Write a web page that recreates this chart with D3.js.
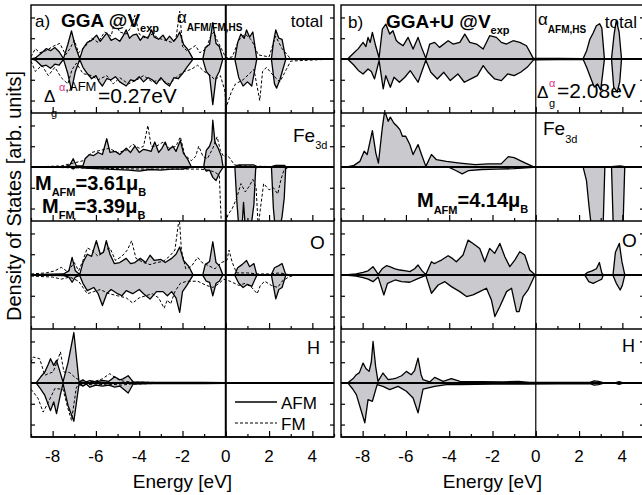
<!DOCTYPE html>
<html>
<head>
<meta charset="utf-8">
<script src="https://cdn.jsdelivr.net/npm/d3@7"></script>
<style>
body { margin: 0; background: #fff; }
svg { display: block; font-family: Arial, "Liberation Sans", sans-serif; }
</style>
</head>
<body>
<svg id="chart" width="642" height="495"></svg>
<script>
// energy axis
const energyTicks = [-8, -6, -4, -2, 0, 2, 4];
const energyMinor = [-9, -7, -5, -3, -1, 1, 3, 5];
const dosTicks = [-2, -1, 1, 2];

// ---- a) GGA @Vexp : [energy, DOS]  (up > 0, down < 0)
const aTotUp = [[-9,0],[-8.8,0.05],[-8.5,0.3],[-8.3,0.5],[-8.1,0.4],[-7.9,0.55],[-7.7,0.35],[-7.5,0.02],[-7.3,0.7],[-7.13,1.35],[-6.95,0.6],[-6.75,0.02],[-6.6,0.5],[-6.4,0.8],[-6.2,0.9],[-5.97,1.15],[-5.8,0.85],[-5.65,1.05],[-5.5,1.25],[-5.3,0.9],[-5.1,1.0],[-4.9,0.85],[-4.75,1.1],[-4.6,1.4],[-4.45,1.0],[-4.3,1.15],[-4.12,1.2],[-3.95,0.9],[-3.8,1.1],[-3.6,1.0],[-3.43,1.4],[-3.3,1.05],[-3.1,0.95],[-2.9,1.15],[-2.75,0.9],[-2.6,1.1],[-2.4,0.85],[-2.25,1.05],[-2.13,1.3],[-1.95,0.7],[-1.75,0.45],[-1.52,0.02],[-1.06,0.02],[-0.95,0.55],[-0.75,0.7],[-0.6,1.75],[-0.45,0.75],[-0.3,0.6],[-0.14,0.02],[0.42,0.02],[0.55,0.8],[0.7,1.2],[0.85,1.0],[0.96,1.4],[1.1,1.05],[1.25,1.3],[1.43,0.02],[2.11,0.02],[2.2,0.8],[2.31,1.4],[2.45,1.0],[2.6,0.95],[2.77,0.02],[5,0]];
const aTotDn = [[-9,0],[-8.8,-0.05],[-8.5,-0.35],[-8.3,-0.3],[-8.1,-0.45],[-7.9,-0.25],[-7.7,-0.3],[-7.5,-0.02],[-7.3,-0.7],[-7.13,-1.5],[-6.95,-0.6],[-6.75,-0.02],[-6.6,-0.4],[-6.4,-0.7],[-6.2,-0.95],[-6.0,-0.8],[-5.85,-1.1],[-5.7,-1.3],[-5.5,-0.95],[-5.3,-1.0],[-5.1,-0.85],[-4.9,-1.1],[-4.6,-1.3],[-4.4,-1.0],[-4.2,-1.05],[-4.0,-0.85],[-3.8,-1.1],[-3.6,-0.9],[-3.4,-1.0],[-3.2,-1.2],[-3.0,-0.9],[-2.8,-1.15],[-2.6,-1.3],[-2.4,-0.9],[-2.2,-0.95],[-2.0,-0.7],[-1.8,-0.4],[-1.52,-0.02],[-1.06,-0.02],[-0.9,-0.6],[-0.75,-0.8],[-0.6,-2.2],[-0.45,-0.9],[-0.3,-0.6],[-0.14,-0.02],[0.42,-0.02],[0.6,-0.9],[0.8,-1.3],[1.0,-1.1],[1.2,-1.3],[1.43,-0.02],[2.11,-0.02],[2.25,-1.2],[2.35,-1.4],[2.5,-1.0],[2.77,-0.02],[5,0]];
const aTotFmUp = [[-9,0.1],[-8.8,0.5],[-8.6,0.3],[-8.3,0.4],[-8.0,0.6],[-7.67,0.75],[-7.4,0.2],[-7.2,0.5],[-7.0,0.9],[-6.8,0.3],[-6.5,0.6],[-6.2,1.0],[-5.9,0.8],[-5.6,1.3],[-5.3,1.1],[-5.13,1.8],[-4.9,1.3],[-4.6,1.2],[-4.4,1.5],[-4.2,2.1],[-4.0,1.2],[-3.7,1.0],[-3.4,1.2],[-3.1,1.0],[-2.8,0.9],[-2.5,0.8],[-2.3,1.0],[-2.13,2.3],[-2.0,0.6],[-1.8,0.4],[-1.6,0.5],[-1.4,0.65],[-1.2,0.3],[-0.9,0.5],[-0.7,1.1],[-0.55,1.3],[-0.4,0.9],[-0.2,0.5],[0,0.05],[0.3,0.1],[0.6,0.9],[0.9,1.2],[1.2,0.9],[1.5,0.2],[2.0,0.1],[2.3,1.1],[2.6,0.5],[3.0,0],[5,0]];
const aTotFmDn = [[-9,-0.1],[-8.8,-0.6],[-8.5,-0.3],[-8.2,-0.8],[-7.9,-0.4],[-7.6,-0.9],[-7.3,-1.2],[-7.1,-0.5],[-6.9,-0.2],[-6.6,-0.7],[-6.2,-0.8],[-5.9,-1.0],[-5.5,-0.8],[-5.2,-1.2],[-4.9,-0.9],[-4.5,-1.2],[-4.1,-1.0],[-3.8,-0.8],[-3.4,-1.1],[-3.0,-1.0],[-2.6,-1.2],[-2.2,-0.8],[-1.9,-0.6],[-1.6,-0.5],[-1.3,-0.3],[-1.0,-0.6],[-0.7,-0.8],[-0.5,-1.0],[-0.25,-0.8],[-0.05,-1.5],[0.03,-2.3],[0.25,-1.6],[0.45,-1.2],[0.8,-1.0],[1.1,-0.7],[1.3,-0.5],[1.57,-2.0],[1.7,-0.6],[1.88,-0.4],[2.2,-0.8],[2.5,-1.1],[2.8,-0.5],[3.0,-0.1],[5,0]];

const aFeUp = [[-9,0],[-7.4,0.02],[-7.2,0.1],[-7.05,0.4],[-6.9,0.05],[-6.6,0.05],[-6.5,0.4],[-6.3,0.6],[-6.1,0.55],[-5.9,0.7],[-5.7,0.6],[-5.5,1.36],[-5.35,0.7],[-5.1,0.75],[-4.9,0.6],[-4.6,0.9],[-4.4,0.7],[-4.2,1.0],[-4.0,0.7],[-3.8,0.85],[-3.6,0.8],[-3.45,0.75],[-3.28,1.2],[-3.1,0.7],[-2.95,0.9],[-2.8,1.2],[-2.65,0.8],[-2.45,1.0],[-2.3,0.75],[-2.1,1.28],[-1.95,0.65],[-1.75,0.35],[-1.6,0.02],[-1.02,0.02],[-0.9,0.8],[-0.75,1.0],[-0.65,1.3],[-0.6,2.25],[-0.5,1.2],[-0.35,0.9],[-0.2,0.5],[-0.13,0.02],[0.42,0.02],[0.6,0.1],[1.3,0.1],[1.42,0.02],[2.11,0.02],[2.3,0.08],[2.7,0.08],[2.77,0.02],[5,0]];
const aFeDn = [[-9,0],[-7.2,0],[-7.05,-0.1],[-6.9,0],[-6.5,-0.05],[-5.5,-0.1],[-4.5,-0.15],[-4.0,-0.2],[-3.5,-0.12],[-3.0,-0.15],[-2.5,-0.1],[-2.0,-0.1],[-1.6,-0.02],[-1.02,-0.02],[-0.9,-0.2],[-0.75,-0.15],[-0.6,-0.5],[-0.45,-0.65],[-0.3,-0.3],[-0.13,-0.02],[0.42,0],[0.5,-1.5],[0.6,-2.9],[0.75,-2.9],[0.82,-1.7],[0.9,-2.9],[1.1,-2.9],[1.2,-2.6],[1.3,-1.8],[1.38,-0.1],[1.42,0],[2.11,0],[2.2,-2.0],[2.28,-2.9],[2.5,-2.9],[2.6,-2.4],[2.7,-1.5],[2.77,0],[5,0]];
const aFeFmUp = [[-9,0],[-7.6,0.05],[-7.0,0.2],[-6.6,0.3],[-6.2,0.7],[-5.8,0.8],[-5.4,0.9],[-5.0,0.7],[-4.6,0.8],[-4.3,1.1],[-4.0,0.9],[-3.8,1.0],[-3.6,2.0],[-3.45,1.0],[-3.2,1.0],[-2.9,1.2],[-2.6,0.9],[-2.3,1.0],[-2.1,1.45],[-1.9,0.6],[-1.6,0.3],[-1.4,0.5],[-1.25,1.0],[-1.05,0.5],[-0.85,0.4],[-0.6,0.9],[-0.4,1.45],[-0.25,0.8],[-0.1,0.5],[0.05,0.6],[0.2,0.4],[0.4,0.1],[0.8,0.05],[3,0],[5,0]];
const aFeFmDn = [[-9,0],[-6.5,-0.05],[-4,-0.1],[-2,-0.1],[-1.2,-0.1],[-0.8,-0.15],[-0.5,-0.25],[-0.3,-0.4],[-0.2,-2.9],[-0.05,-2.9],[0.1,-2.3],[0.3,-2.0],[0.5,-1.5],[0.7,-0.8],[0.9,-1.2],[1.1,-0.9],[1.25,-0.6],[1.4,-1.0],[1.5,-2.9],[1.6,-2.0],[1.75,-0.8],[2.0,-1.1],[2.2,-1.0],[2.4,-1.3],[2.55,-0.6],[2.7,-0.1],[3.0,0],[5,0]];

const aOUp = [[-9,0],[-8.5,0.03],[-7.5,0.05],[-7.25,0.2],[-7.1,0.85],[-6.95,0.2],[-6.75,0.02],[-6.6,0.6],[-6.4,1.0],[-6.2,0.9],[-5.98,1.65],[-5.8,1.0],[-5.65,1.1],[-5.52,1.65],[-5.35,1.0],[-5.15,0.55],[-4.9,0.6],[-4.6,0.8],[-4.4,0.55],[-4.2,0.6],[-3.95,0.8],[-3.7,0.6],[-3.5,0.95],[-3.3,0.7],[-3.0,0.75],[-2.8,0.6],[-2.5,0.8],[-2.3,1.0],[-2.13,1.35],[-1.95,0.7],[-1.7,0.4],[-1.52,0.02],[-1.06,0.02],[-0.95,0.5],[-0.75,0.65],[-0.6,1.6],[-0.45,0.6],[-0.3,0.45],[-0.14,0.02],[0.42,0.02],[0.55,0.35],[0.75,0.5],[0.96,0.7],[1.1,0.4],[1.3,0.55],[1.43,0.02],[2.11,0.02],[2.25,0.35],[2.45,0.45],[2.6,0.55],[2.77,0.02],[5,0]];
const aODn = [[-9,0],[-7.5,-0.03],[-7.25,-0.1],[-7.1,-0.35],[-6.95,-0.1],[-6.75,-0.02],[-6.6,-0.4],[-6.4,-0.75],[-6.1,-0.6],[-5.9,-0.9],[-5.7,-1.47],[-5.5,-0.9],[-5.3,-0.7],[-5.0,-0.9],[-4.8,-1.0],[-4.6,-0.75],[-4.3,-0.9],[-4.0,-0.7],[-3.8,-0.9],[-3.5,-1.16],[-3.2,-0.8],[-2.9,-0.8],[-2.7,-1.0],[-2.5,-0.8],[-2.3,-1.1],[-2.13,-1.8],[-2.0,-0.8],[-1.8,-0.5],[-1.52,-0.02],[-1.06,-0.02],[-0.9,-0.3],[-0.75,-0.35],[-0.6,-1.0],[-0.45,-0.4],[-0.3,-0.3],[-0.14,-0.02],[0.42,-0.02],[0.6,-0.4],[0.8,-0.6],[1.0,-0.45],[1.2,-0.55],[1.43,-0.02],[2.11,-0.02],[2.25,-0.8],[2.31,-1.15],[2.45,-0.7],[2.6,-0.6],[2.77,-0.02],[5,0]];
const aOFmUp = [[-9,0.05],[-8.3,0.1],[-7.9,0.2],[-7.6,0.37],[-7.3,0.15],[-7.0,0.6],[-6.8,0.2],[-6.6,0.7],[-6.4,1.3],[-6.2,1.2],[-5.9,0.9],[-5.6,1.2],[-5.35,1.3],[-5.1,0.7],[-4.8,0.9],[-4.55,1.2],[-4.35,1.65],[-4.15,0.8],[-3.8,0.6],[-3.5,0.5],[-3.2,0.6],[-2.9,0.65],[-2.6,0.9],[-2.35,1.2],[-2.15,2.8],[-2.05,1.2],[-1.85,0.3],[-1.6,0.4],[-1.3,0.85],[-1.1,0.6],[-0.8,0.45],[-0.5,0.3],[-0.2,0.6],[0.05,0.7],[0.15,1.2],[0.3,0.6],[0.5,0.1],[1.0,0.1],[1.5,0.05],[2.0,0.05],[2.5,0.1],[3.0,0],[5,0]];
const aOFmDn = [[-9,-0.05],[-8.0,-0.1],[-7.6,-0.2],[-7.2,-0.1],[-6.8,-0.3],[-6.4,-0.9],[-6.1,-0.8],[-5.8,-0.7],[-5.4,-0.9],[-5.0,-1.0],[-4.6,-1.1],[-4.3,-1.35],[-4.0,-1.1],[-3.7,-1.0],[-3.4,-0.9],[-3.1,-1.1],[-2.85,-1.6],[-2.7,-1.2],[-2.55,-1.4],[-2.35,-0.8],[-2.1,-0.4],[-1.8,-0.3],[-1.3,-0.3],[-0.9,-0.5],[-0.6,-0.6],[-0.3,-0.4],[-0.1,-0.2],[0.2,-0.3],[0.6,-0.5],[0.9,-0.4],[1.2,-0.6],[1.45,-0.9],[1.6,-0.5],[1.8,-0.3],[2.1,-0.5],[2.4,-0.6],[2.6,-0.3],[2.9,-0.1],[3.2,0],[5,0]];

const aHUp = [[-9,0],[-8.75,0.02],[-8.55,0.3],[-8.36,0.53],[-8.2,0.9],[-8.1,1.17],[-7.95,0.85],[-7.82,1.09],[-7.65,0.5],[-7.52,0.05],[-7.29,0.98],[-7.02,2.43],[-6.78,0.03],[-6.6,0.15],[-6.45,0.05],[-6.28,0.12],[-6.0,0.05],[-5.7,0.12],[-5.4,0.08],[-5.13,0.3],[-4.9,0.15],[-4.75,0.2],[-4.51,0.35],[-4.28,0.05],[-3.5,0.03],[-1,0.03],[0,0.02],[1,0.02],[2.5,0.02],[5,0]];
const aHDn = [[-9,0],[-8.75,-0.02],[-8.55,-0.3],[-8.36,-0.6],[-8.1,-1.33],[-7.95,-0.91],[-7.82,-1.47],[-7.65,-0.6],[-7.52,-0.03],[-7.29,-1.08],[-7.02,-1.84],[-6.78,-0.03],[-6.6,-0.15],[-6.45,-0.05],[-6.28,-0.2],[-6.0,-0.1],[-5.7,-0.15],[-5.4,-0.1],[-5.13,-0.2],[-4.9,-0.15],[-4.51,-0.48],[-4.28,-0.05],[-3.5,-0.03],[-1,-0.03],[0,-0.02],[1,-0.02],[2.5,-0.02],[5,0]];
const aHFmUp = [[-9,1.0],[-8.9,1.25],[-8.6,1.17],[-8.36,0.37],[-8.2,0.45],[-7.98,0.53],[-7.8,1.0],[-7.64,1.5],[-7.48,0.53],[-7.21,0.5],[-6.95,0.25],[-6.74,0.13],[-6.4,0.05],[-6.0,0.1],[-5.7,0.2],[-5.36,0.45],[-5.1,0.25],[-4.8,0.1],[-4.4,0.05],[-3,0.02],[5,0]];
const aHFmDn = [[-9,-0.3],[-8.9,-0.43],[-8.67,-0.75],[-8.44,-1.4],[-8.21,-0.95],[-7.9,-0.27],[-7.52,-0.3],[-7.29,-1.24],[-7.13,-1.8],[-6.9,-0.19],[-6.6,-0.05],[-6.0,-0.1],[-5.5,-0.05],[-4.8,-0.1],[-4.4,-0.05],[-3,-0.02],[5,0]];

// ---- b) GGA+U @Vexp (AFM only)
const bTotUp = [[-9,0],[-8.67,0.02],[-8.4,0.3],[-8.2,0.5],[-7.98,0.8],[-7.85,0.6],[-7.75,1.04],[-7.65,0.8],[-7.55,1.28],[-7.39,0.6],[-7.24,0.06],[-7.09,1.44],[-6.93,1.68],[-6.75,1.2],[-6.6,1.36],[-6.45,0.9],[-6.36,0.8],[-6.13,0.64],[-5.9,1.04],[-5.67,0.48],[-5.44,1.04],[-5.28,0.56],[-5.08,0.04],[-4.9,0.72],[-4.67,0.8],[-4.45,0.56],[-4.05,0.88],[-3.82,0.72],[-3.51,0.8],[-3.28,1.2],[-3.05,0.8],[-2.74,0.72],[-2.43,0.48],[-2.13,1.12],[-1.82,1.04],[-1.59,0.8],[-1.35,0.72],[-1.05,0.88],[-0.74,0.8],[-0.43,0.64],[-0.12,0.04],[2.19,0.02],[2.35,0.4],[2.5,0.95],[2.65,1.25],[2.8,1.6],[2.95,1.7],[3.05,1.5],[3.17,0.02],[3.5,0.02],[3.62,1.2],[3.72,1.85],[3.85,1.3],[3.96,0.02],[5,0]];
const bTotDn = [[-9,0],[-8.67,-0.02],[-8.4,-0.3],[-8.2,-0.55],[-7.98,-0.72],[-7.75,-0.48],[-7.6,-0.6],[-7.45,-0.96],[-7.24,-0.08],[-7.05,-1.44],[-6.93,-0.8],[-6.72,-1.36],[-6.55,-0.88],[-6.3,-1.12],[-6.05,-0.88],[-5.8,-0.56],[-5.44,-1.12],[-5.08,-0.06],[-4.85,-0.64],[-4.55,-0.96],[-4.25,-0.64],[-3.95,-1.04],[-3.6,-0.72],[-3.3,-1.12],[-3.0,-0.96],[-2.7,-0.8],[-2.43,-0.32],[-2.2,-0.64],[-1.9,-0.96],[-1.59,-1.04],[-1.3,-0.72],[-1.0,-0.8],[-0.7,-0.64],[-0.4,-0.4],[-0.1,-0.04],[2.19,-0.02],[2.35,-0.4],[2.55,-0.95],[2.7,-1.35],[2.85,-1.2],[3.0,-1.5],[3.17,-0.02],[3.5,-0.02],[3.6,-1.35],[3.76,-1.6],[3.88,-1.1],[3.96,-0.02],[5,0]];

const bFeUp = [[-9,0],[-8.67,0.02],[-8.4,0.08],[-8.13,0.27],[-7.93,0.76],[-7.79,0.6],[-7.55,1.75],[-7.39,0.67],[-7.27,0.19],[-7.09,1.9],[-6.98,2.7],[-6.82,2.2],[-6.72,2.4],[-6.56,2.12],[-6.41,1.96],[-6.28,1.8],[-6.16,1.48],[-6.01,1.48],[-5.82,1.08],[-5.67,0.6],[-5.44,1.08],[-5.28,0.6],[-5.08,0.03],[-4.82,0.6],[-4.59,0.35],[-4.13,0.27],[-3.5,0.19],[-2.8,0.11],[-2.2,0.15],[-1.6,0.15],[-1.27,0.5],[-1.0,0.45],[-0.6,0.25],[-0.12,0.02],[3.5,0.02],[3.9,0.05],[4.11,0.02],[5,0]];
const bFeDn = [[-9,0],[-4,-0.02],[-3.7,-0.17],[-3.4,-0.33],[-3.1,-0.17],[-2.5,-0.12],[-1.8,-0.1],[-1.0,-0.08],[-0.12,-0.02],[2.19,-0.02],[2.34,-0.64],[2.46,-1.9],[2.57,-2.9],[3.11,-2.9],[3.19,-0.02],[3.5,-0.02],[3.58,-2.9],[4.03,-2.9],[4.11,-0.02],[5,0]];

const bOUp = [[-9,0],[-8.67,0.02],[-8.3,0.05],[-7.98,0.13],[-7.75,0.2],[-7.52,0.4],[-7.28,0.03],[-7.1,0.3],[-6.9,0.45],[-6.75,0.4],[-6.5,0.3],[-6.28,0.24],[-6.0,0.2],[-5.82,0.16],[-5.6,0.3],[-5.44,0.48],[-5.25,0.2],[-5.08,0.02],[-4.82,0.64],[-4.7,0.55],[-4.59,0.6],[-4.36,0.72],[-4.05,0.93],[-3.85,0.8],[-3.67,0.64],[-3.36,0.96],[-3.13,1.68],[-2.9,1.52],[-2.59,1.28],[-2.36,0.64],[-2.13,1.28],[-1.9,1.04],[-1.66,1.52],[-1.43,0.88],[-1.2,0.4],[-0.97,0.72],[-0.74,1.12],[-0.51,0.96],[-0.28,0.24],[-0.05,0.02],[2.27,0.02],[2.4,0.13],[2.6,0.2],[2.8,0.3],[2.94,0.6],[3.05,0.1],[3.11,0.02],[3.57,0.02],[3.68,1.1],[3.86,1.52],[3.98,0.64],[4.11,0.02],[5,0]];
const bODn = [[-9,0],[-8.67,-0.02],[-8.3,-0.05],[-7.98,-0.13],[-7.75,-0.2],[-7.52,-0.32],[-7.28,-0.1],[-7.02,-0.96],[-6.85,-0.4],[-6.5,-0.24],[-6.2,-0.32],[-5.82,-0.35],[-5.5,-0.2],[-5.08,-0.02],[-4.82,-0.88],[-4.51,-0.48],[-4.2,-0.32],[-3.9,-0.56],[-3.51,-0.8],[-3.2,-1.04],[-2.9,-0.96],[-2.59,-0.8],[-2.28,-0.64],[-2.05,-1.2],[-1.89,-2.0],[-1.66,-1.52],[-1.35,-0.8],[-1.12,-0.64],[-0.89,-1.76],[-0.77,-1.76],[-0.59,-1.04],[-0.36,-0.72],[-0.05,-0.02],[2.27,-0.02],[2.45,-0.32],[2.65,-0.4],[2.85,-0.3],[3.05,-0.2],[3.11,-0.02],[3.57,-0.02],[3.72,-0.4],[3.9,-0.72],[4.0,-0.5],[4.11,-0.02],[5,0]];

const bHUp = [[-9,0],[-8.67,0.02],[-8.45,0.2],[-8.29,0.4],[-8.15,0.5],[-7.98,0.96],[-7.85,0.7],[-7.7,0.56],[-7.6,1.0],[-7.52,2.0],[-7.4,0.8],[-7.29,0.08],[-7.06,0.48],[-6.82,0.16],[-6.6,0.2],[-6.44,0.24],[-6.2,0.35],[-5.98,0.56],[-5.75,0.4],[-5.6,0.6],[-5.44,1.2],[-5.3,0.4],[-5.21,0.16],[-4.9,0.05],[-4.67,0.27],[-4.28,0.08],[-3.9,0.21],[-3.5,0.08],[-2.5,0.06],[-1.5,0.05],[-0.8,0.08],[-0.3,0.03],[2.5,0.03],[2.7,0.1],[2.9,0.08],[3.1,0.02],[3.7,0.02],[3.85,0.07],[4.0,0.02],[5,0]];
const bHDn = [[-9,0],[-8.67,-0.02],[-8.45,-0.3],[-8.29,-0.56],[-8.06,-1.36],[-7.9,-1.92],[-7.75,-0.8],[-7.55,-0.88],[-7.33,-0.08],[-7.06,-0.16],[-6.75,-0.32],[-6.36,-0.16],[-5.98,-0.4],[-5.67,-0.72],[-5.44,-1.44],[-5.21,-0.3],[-4.67,-0.16],[-4.13,-0.08],[-3.51,-0.08],[-2,-0.05],[-0.5,-0.05],[2.5,-0.03],[2.7,-0.1],[2.9,-0.08],[3.1,-0.02],[3.7,-0.02],[3.85,-0.07],[4.0,-0.02],[5,0]];


// ---- layout
const panelW = 303, top0 = 5, rowH = 108;
const fillGray = "#c9c9ce";
const pink = "#e3348a";

const svg = d3.select("#chart");

const panels = [
    { x0: 31, efWidth: 2, rows: [
        { up: aTotUp, dn: aTotDn, fm: [aTotFmUp, aTotFmDn] },
        { up: aFeUp, dn: aFeDn, fm: [aFeFmUp, aFeFmDn] },
        { up: aOUp, dn: aODn, fm: [aOFmUp, aOFmDn] },
        { up: aHUp, dn: aHDn, fm: [aHFmUp, aHFmDn] } ] },
    { x0: 341, efWidth: 1.2, rows: [
        { up: bTotUp, dn: bTotDn, fm: [] },
        { up: bFeUp, dn: bFeDn, fm: [] },
        { up: bOUp, dn: bODn, fm: [] },
        { up: bHUp, dn: bHDn, fm: [] } ] }
];

// text helper: parts = [text, size, bold, baseline offset, colour]
function rich(x, y, parts, anchor) {
    const t = svg.append("text").attr("x", x).attr("y", y)
        .attr("text-anchor", anchor || "start");
    let cur = 0;
    parts.forEach(([s, size, bold, off, col]) => {
        off = off || 0;
        t.append("tspan")
            .attr("dy", off - cur)
            .attr("font-size", size)
            .attr("font-weight", bold ? "bold" : "normal")
            .attr("fill", col || "#000")
            .text(s);
        cur = off;
    });
    return t;
}

// labels (drawn first, curves go over them like in the figure)
rich(35, 27, [["a)", 17]]);
rich(61, 27, [["GGA @V", 19, 1], ["exp", 11, 1, 5]]);
rich(177, 23, [["α", 17], ["AFM/FM,HS", 10, 1, 8]]);
rich(323, 27, [["total", 17]], "end");
rich(44, 102, [["Δ", 17]]);
rich(59, 91, [["α", 11, 0, 0, pink], [",AFM", 13]]);
rich(51, 117, [["g", 11]]);
rich(98, 103, [["=0.27eV", 21]]);
rich(293, 142, [["Fe", 19], ["3d", 11, 0, 7]]);
rich(35, 190, [["M", 20, 1], ["AFM", 11, 1, 6], ["=3.61μ", 20, 1], ["B", 11, 1, 6]]);
rich(42, 213, [["M", 20, 1], ["FM", 11, 1, 6], ["=3.39μ", 20, 1], ["B", 11, 1, 6]]);
rich(310, 249, [["O", 19]]);
rich(307, 354, [["H", 18]]);

rich(348, 28, [["b)", 17]]);
rich(386, 28, [["GGA+U @V", 19, 1], ["exp", 11, 1, 6]]);
rich(538, 25, [["α", 17], ["AFM,HS", 10, 1, 8]]);
rich(637, 28, [["total", 17]], "end");
rich(537, 98, [["Δ", 17]]);
rich(549, 87, [["α", 11, 0, 0, pink]]);
rich(549, 107, [["g", 11]]);
rich(557, 98, [["=2.08eV", 21]]);
rich(543, 135, [["Fe", 19], ["3d", 11, 0, 8]]);
rich(417, 207, [["M", 20, 1], ["AFM", 11, 1, 7], ["=4.14μ", 20, 1], ["B", 11, 1, 6]]);
rich(622, 247, [["O", 19]]);
rich(622, 352, [["H", 18]]);

panels.forEach((p, pi) => {
    const x = d3.scaleLinear().domain([-9, 5]).range([p.x0, p.x0 + panelW]);
    const g = svg.append("g");

    p.rows.forEach((r, ri) => {
        const yTop = top0 + ri * rowH;
        const y = d3.scaleLinear().domain([-2.6, 2.6]).range([yTop + rowH, yTop]);
        const cid = `clip${pi}${ri}`;
        svg.append("clipPath").attr("id", cid).append("rect")
            .attr("x", p.x0).attr("y", yTop).attr("width", panelW).attr("height", rowH);
        const cg = g.append("g").attr("clip-path", `url(#${cid})`);

        const area = d3.area().x(d => x(d[0])).y0(y(0)).y1(d => y(d[1]));
        const line = d3.line().x(d => x(d[0])).y(d => y(d[1]));

        [r.up, r.dn].forEach(s => cg.append("path").attr("d", area(s)).attr("fill", fillGray));
        r.fm.forEach(s => cg.append("path").attr("d", line(s))
            .attr("fill", "none").attr("stroke", "#000").attr("stroke-width", 1)
            .attr("stroke-dasharray", "3,2"));
        [r.up, r.dn].forEach(s => cg.append("path").attr("d", line(s))
            .attr("fill", "none").attr("stroke", "#000").attr("stroke-width", 1.3)
            .attr("stroke-linejoin", "round"));

        // zero line
        g.append("line").attr("x1", p.x0).attr("x2", p.x0 + panelW)
            .attr("y1", y(0)).attr("y2", y(0))
            .attr("stroke", "#000").attr("stroke-width", 2);

        // dos ticks both sides, inward
        g.append("g").attr("transform", `translate(${p.x0},0)`)
            .call(d3.axisRight(y).tickValues(dosTicks).tickSize(4).tickFormat(""))
            .call(a => a.select(".domain").remove());
        g.append("g").attr("transform", `translate(${p.x0 + panelW},0)`)
            .call(d3.axisLeft(y).tickValues(dosTicks).tickSize(4).tickFormat(""))
            .call(a => a.select(".domain").remove());

        // energy ticks on the bottom of each row, pointing up
        g.append("g").attr("transform", `translate(0,${yTop + rowH})`)
            .call(d3.axisTop(x).tickValues(energyTicks).tickSize(6).tickFormat(""))
            .call(a => a.select(".domain").remove());
        g.append("g").attr("transform", `translate(0,${yTop + rowH})`)
            .call(d3.axisTop(x).tickValues(energyMinor).tickSize(3).tickFormat(""))
            .call(a => a.select(".domain").remove());

        // row separator
        g.append("line").attr("x1", p.x0).attr("x2", p.x0 + panelW)
            .attr("y1", yTop + rowH).attr("y2", yTop + rowH)
            .attr("stroke", "#000").attr("stroke-width", 1.3);
    });

    g.selectAll(".tick line").attr("stroke", "#000").attr("stroke-width", 1.2);

    // Fermi level
    g.append("line").attr("x1", x(0)).attr("x2", x(0))
        .attr("y1", top0).attr("y2", top0 + 4 * rowH)
        .attr("stroke", "#000").attr("stroke-width", p.efWidth);

    // frame
    g.append("rect").attr("x", p.x0).attr("y", top0)
        .attr("width", panelW).attr("height", 4 * rowH)
        .attr("fill", "none").attr("stroke", "#000").attr("stroke-width", 1.4);

    // tick labels
    g.append("g").selectAll("text").data(energyTicks).join("text")
        .attr("x", d => x(d)).attr("y", 462)
        .attr("text-anchor", "middle").attr("font-size", 17)
        .text(d => d);

    g.append("text").attr("x", x(-2)).attr("y", 488)
        .attr("text-anchor", "middle").attr("font-size", 19)
        .text("Energy [eV]");
});

// legend (panel a, H row)
const legendItems = ["AFM", "FM"];
legendItems.forEach((name, i) => {
    const ly = 402 + i * 21;
    svg.append("line").attr("x1", 235).attr("x2", 277).attr("y1", ly).attr("y2", ly)
        .attr("stroke", "#000").attr("stroke-width", i ? 1 : 1.3)
        .attr("stroke-dasharray", i ? "3,2" : null);
    svg.append("text").attr("x", 281).attr("y", ly + 7).attr("font-size", 17).text(name);
});

// y label
svg.append("text")
    .attr("transform", "translate(21,196) rotate(-90)")
    .attr("text-anchor", "middle").attr("font-size", 20)
    .text("Density of States [arb. units]");
</script>
</body>
</html>
